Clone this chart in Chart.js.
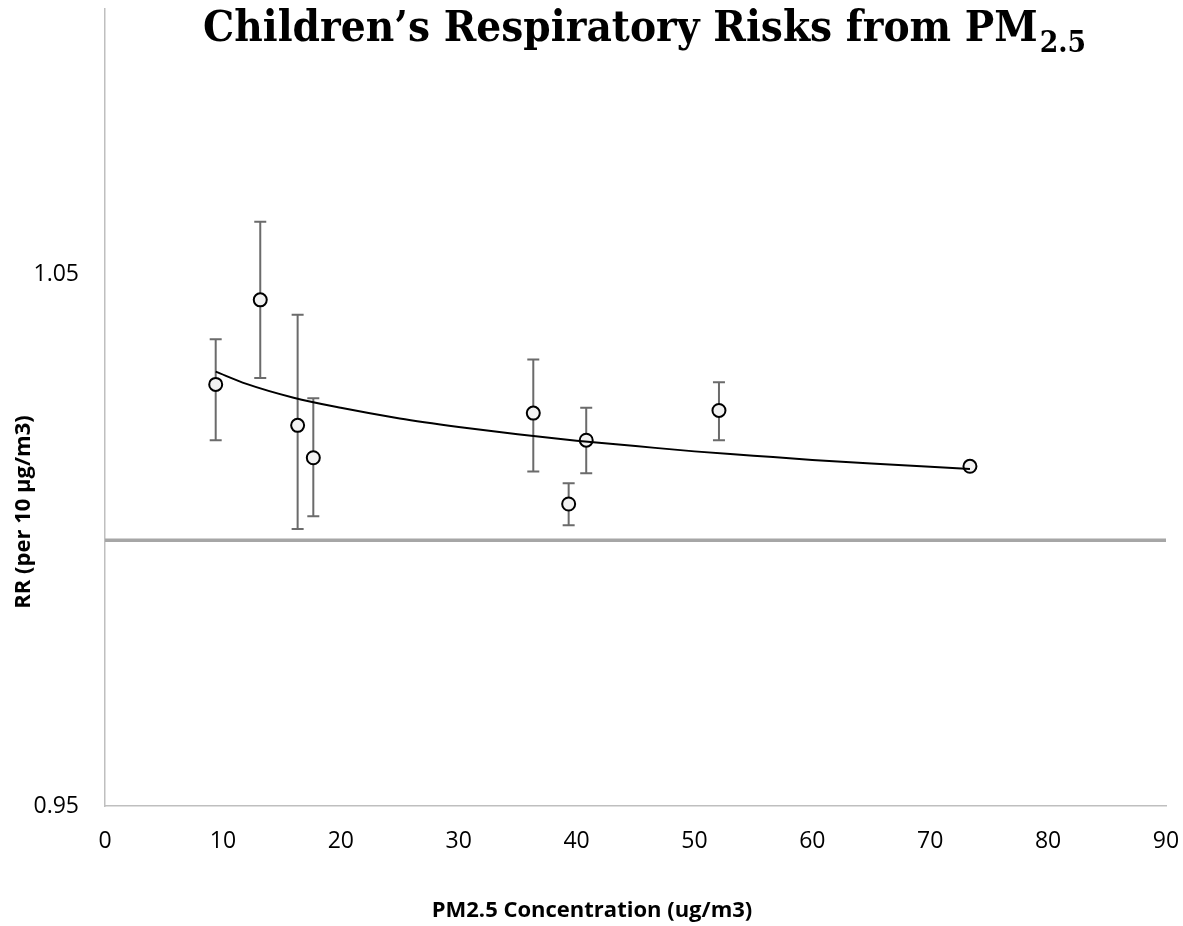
<!DOCTYPE html>
<html lang="en">
<head>
    <meta charset="UTF-8">
    <title>Children’s Respiratory Risks from PM2.5</title>
    <script src="https://cdn.jsdelivr.net/npm/chart.js"></script>
    <style>
        body { margin: 0; background: #fff; }
    </style>
</head>
<body>
    <canvas id="rrChart" width="1183" height="926"></canvas>

    <script>
        // values
        const pm25 = [9.39, 13.17, 16.34, 17.67, 36.33, 39.33, 40.82, 52.08, 73.37];
        const rr = [1.0293, 1.0452, 1.0216, 1.0155, 1.0239, 1.0068, 1.0188, 1.0244, 1.0139];
        const rrLower = [1.0188, 1.0305, 1.0021, 1.0045, 1.0129, 1.0028, 1.0126, 1.0188, null];
        const rrUpper = [1.0378, 1.0599, 1.0424, 1.0267, 1.0340, 1.0107, 1.0249, 1.0297, null];

        // trend curve
        const trendX = [9.39, 12, 16, 20, 25, 30, 35, 40, 45, 50, 55, 60, 65, 70, 73.37];
        const trendY = [1.0317, 1.0294, 1.0268, 1.0249, 1.0229, 1.0213, 1.0199, 1.0187, 1.0177, 1.0167, 1.0159, 1.0151, 1.0144, 1.0138, 1.0134];

        // no-effect line at RR = 1
        const refX = [0, 90];
        const refY = [1.0, 1.0];

        const yTickValues = [0.95, 1.05];

        const titleMain = 'Children’s Respiratory Risks from PM';
        const titleSub = '2.5';
        const xTitle = 'PM2.5 Concentration (ug/m3)';
        const yTitle = 'RR (per 10 µg/m3)';

        const toPoints = (xs, ys) => xs.map((x, i) => ({ x: x, y: ys[i] }));

        // font size that makes text fill a given width
        function fitFont(ctx, text, weight, family, width) {
            ctx.font = weight + ' 100px ' + family;
            return 100 * width / ctx.measureText(text).width;
        }

        const errorBars = {
            id: 'errorBars',
            beforeDatasetsDraw(chart) {
                const ctx = chart.ctx;
                const xs = chart.scales.x, ys = chart.scales.y;
                ctx.save();
                ctx.strokeStyle = '#6b6b6b';
                ctx.lineWidth = 2;
                pm25.forEach((v, i) => {
                    if (rrLower[i] == null || rrUpper[i] == null) return;
                    const px = xs.getPixelForValue(v);
                    const top = ys.getPixelForValue(rrUpper[i]);
                    const bot = ys.getPixelForValue(rrLower[i]);
                    ctx.beginPath();
                    ctx.moveTo(px, top); ctx.lineTo(px, bot);
                    ctx.moveTo(px - 6, top); ctx.lineTo(px + 6, top);
                    ctx.moveTo(px - 6, bot); ctx.lineTo(px + 6, bot);
                    ctx.stroke();
                });
                ctx.restore();
            }
        };

        const titles = {
            id: 'titles',
            afterDraw(chart) {
                const ctx = chart.ctx;
                ctx.save();
                ctx.fillStyle = '#000';

                // main title with subscript, spanning about x 203..1081
                const serif = '"DejaVu Serif"';
                const mainSize = fitFont(ctx, titleMain, 'bold', serif, 835);
                const subSize = mainSize * 0.68;
                ctx.textBaseline = 'alphabetic';
                ctx.textAlign = 'left';
                ctx.font = 'bold ' + mainSize + 'px ' + serif;
                const mainW = ctx.measureText(titleMain).width;
                ctx.save();
                ctx.translate(203, 41);
                ctx.scale(1, 1.1);   // the original face is a little taller
                ctx.fillText(titleMain, 0, 0);
                ctx.font = 'bold ' + subSize + 'px ' + serif;
                ctx.fillText(titleSub, mainW + 2, 10);
                ctx.restore();

                // axis titles
                const sans = '"Open Sans"';
                ctx.textAlign = 'center';
                ctx.textBaseline = 'middle';
                ctx.font = 'bold ' + Math.min(22, fitFont(ctx, xTitle, 'bold', sans, 330)) + 'px ' + sans;
                ctx.fillText(xTitle, 592, 911);
                ctx.font = 'bold ' + Math.min(22, fitFont(ctx, yTitle, 'bold', sans, 200)) + 'px ' + sans;
                ctx.translate(24, 512);
                ctx.rotate(-Math.PI / 2);
                ctx.fillText(yTitle, 0, 0);
                ctx.restore();
            }
        };

        const ctx = document.getElementById('rrChart').getContext('2d');
        const rrChart = new Chart(ctx, {
            type: 'scatter',
            data: {
                datasets: [
                    {
                        label: 'Trend',
                        data: toPoints(trendX, trendY),
                        showLine: true,
                        borderColor: '#000',
                        borderWidth: 2,
                        pointRadius: 0,
                        cubicInterpolationMode: 'monotone',
                        order: 0
                    },
                    {
                        label: 'RR',
                        data: toPoints(pm25, rr),
                        showLine: false,
                        pointRadius: 6.5,
                        pointBackgroundColor: '#f2f2f2',
                        pointBorderColor: '#000',
                        pointBorderWidth: 2,
                        order: 1
                    },
                    {
                        label: 'RR = 1',
                        data: toPoints(refX, refY),
                        showLine: true,
                        borderColor: '#a6a6a6',
                        borderWidth: 3.5,
                        pointRadius: 0,
                        order: 2
                    }
                ]
            },
            options: {
                responsive: false,
                animation: false,
                devicePixelRatio: 1,
                layout: { padding: { left: 0, right: 17, top: 8, bottom: 0 } },
                plugins: {
                    legend: { display: false },
                    tooltip: { enabled: false }
                },
                scales: {
                    x: {
                        type: 'linear',
                        min: 0,
                        max: 90,
                        afterFit: s => { s.height = 120; s.paddingLeft = 0; s.paddingRight = 0; },
                        grid: { drawOnChartArea: false, drawTicks: false },
                        border: { display: true, color: '#bfbfbf', width: 1.5 },
                        ticks: {
                            stepSize: 10,
                            padding: 22,
                            color: '#000',
                            font: { family: 'Open Sans', size: 23 }
                        }
                    },
                    y: {
                        type: 'linear',
                        min: 0.95,
                        max: 1.1,
                        afterFit: s => { s.width = 105; s.paddingTop = 0; s.paddingBottom = 0; },
                        afterBuildTicks: s => { s.ticks = yTickValues.map(v => ({ value: v })); },
                        grid: { drawOnChartArea: false, drawTicks: false },
                        border: { display: true, color: '#bfbfbf', width: 1.5 },
                        ticks: {
                            padding: 26,
                            color: '#000',
                            font: { family: 'Open Sans', size: 23 },
                            callback: v => v.toFixed(2)
                        }
                    }
                }
            },
            plugins: [errorBars, titles]
        });
    </script>
</body>
</html>
